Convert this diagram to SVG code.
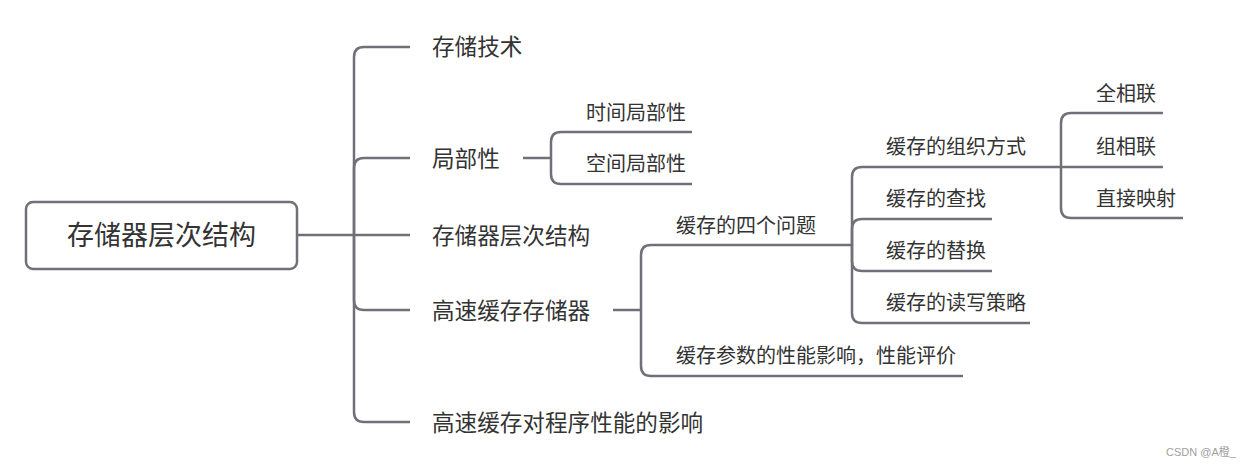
<svg xmlns="http://www.w3.org/2000/svg" width="1244" height="467" viewBox="0 0 1244 467">
<style>
.ln{fill:none;stroke:#707078;stroke-width:2.5;stroke-linecap:butt}
.t{font-family:"Microsoft YaHei","Noto Sans CJK SC","Noto Sans",sans-serif;fill:#333}
.l1{font-size:22.6px}
.l2{font-size:20px}
.root{font-size:27px;text-anchor:middle}
.wm{font-family:"Liberation Sans","Noto Sans CJK SC",sans-serif;font-size:11px;fill:#a0a0a0}
</style>
<rect width="1244" height="467" fill="#ffffff"/>
<g id="connectors">
<path class="ln" d="M297,235 H410"/>
<path class="ln" d="M354,235 V57 Q354,47 364,47 H410"/>
<path class="ln" d="M354,235 V168 Q354,158 364,158 H410"/>
<path class="ln" d="M354,235 V300 Q354,310 364,310 H410"/>
<path class="ln" d="M354,235 V412 Q354,422 364,422 H410"/>
<path class="ln" d="M523,158 H551"/>
<path class="ln" d="M551,158 V142 Q551,132 561,132 H692"/>
<path class="ln" d="M551,158 V174 Q551,184 561,184 H692"/>
<path class="ln" d="M613,310 H641"/>
<path class="ln" d="M641,310 V255 Q641,245 651,245 H852"/>
<path class="ln" d="M641,310 V366 Q641,376 651,376 H963"/>
<path class="ln" d="M852,245 V177 Q852,167 862,167 H1061"/>
<path class="ln" d="M852,245 V229 Q852,219 862,219 H992"/>
<path class="ln" d="M852,245 V261 Q852,271 862,271 H992"/>
<path class="ln" d="M852,245 V313 Q852,323 862,323 H1030"/>
<path class="ln" d="M1061,167 V123 Q1061,113 1071,113 H1163"/>
<path class="ln" d="M1061,167 H1163"/>
<path class="ln" d="M1061,167 V208 Q1061,218 1071,218 H1183"/>
</g>
<g id="root">
<rect x="26" y="202" width="271" height="67" rx="7" fill="#ffffff" stroke="#707078" stroke-width="2.5"/>
<text class="t root" x="161.5" y="245">存储器层次结构</text>
</g>
<g id="n-storage-tech"><text class="t l1" x="432" y="55">存储技术</text></g>
<g id="n-locality"><text class="t l1" x="432" y="167">局部性</text></g>
<g id="n-temporal"><text class="t l2" x="586" y="119.5">时间局部性</text></g>
<g id="n-spatial"><text class="t l2" x="586" y="171">空间局部性</text></g>
<g id="n-hierarchy"><text class="t l1" x="432" y="244">存储器层次结构</text></g>
<g id="n-cache"><text class="t l1" x="432" y="319">高速缓存存储器</text></g>
<g id="n-four"><text class="t l2" x="676" y="232.5">缓存的四个问题</text></g>
<g id="n-param"><text class="t l2" x="676" y="362.5">缓存参数的性能影响，性能评价</text></g>
<g id="n-org"><text class="t l2" x="886" y="153.5">缓存的组织方式</text></g>
<g id="n-find"><text class="t l2" x="886" y="205.5">缓存的查找</text></g>
<g id="n-replace"><text class="t l2" x="886" y="257.5">缓存的替换</text></g>
<g id="n-write"><text class="t l2" x="886" y="309.5">缓存的读写策略</text></g>
<g id="n-full"><text class="t l2" x="1096" y="100.5">全相联</text></g>
<g id="n-set"><text class="t l2" x="1096" y="153.5">组相联</text></g>
<g id="n-direct"><text class="t l2" x="1096" y="205.5">直接映射</text></g>
<g id="n-impact"><text class="t l1" x="432" y="431">高速缓存对程序性能的影响</text></g>
<text class="wm" x="1166" y="456">CSDN @A橙_</text>
</svg>
